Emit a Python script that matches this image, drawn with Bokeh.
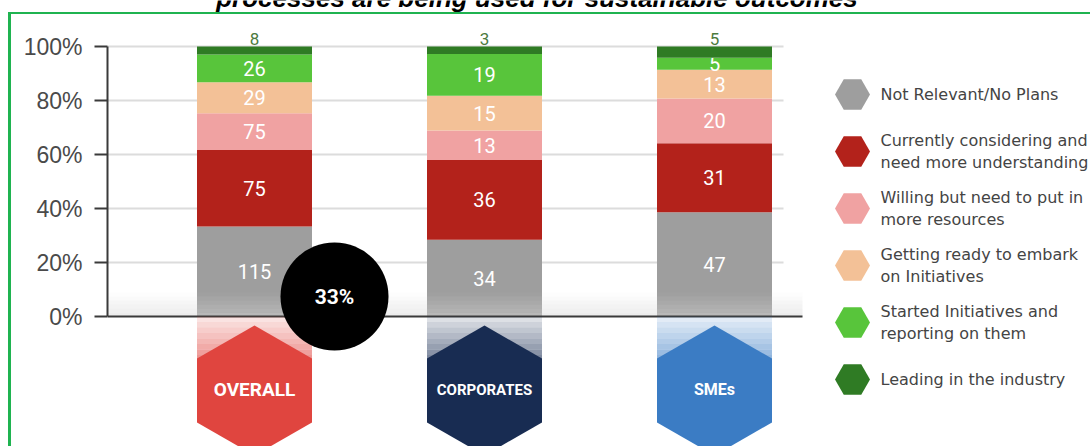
import numpy as np
from bokeh.plotting import figure
from bokeh.models import Range1d, FixedTicker
from bokeh.core.properties import value
from bokeh.embed import file_html
from bokeh.resources import INLINE

# ---------------- data ----------------
title = "processes are being used for sustainable outcomes"
groups = ["OVERALL", "CORPORATES", "SMEs"]
series_names = [
    "Not Relevant/No Plans",
    "Currently considering and\nneed more understanding",
    "Willing but need to put in\nmore resources",
    "Getting ready to embark\non Initiatives",
    "Started Initiatives and\nreporting on them",
    "Leading in the industry",
]
# bar heights (% share, bottom to top), per group
pct_not_relevant = [33.3, 28.4, 38.6]
pct_considering = [28.4, 29.6, 25.6]
pct_willing = [13.6, 10.9, 16.5]
pct_getting_ready = [11.5, 12.9, 10.7]
pct_started = [10.2, 15.4, 4.4]
pct_leading = [3.0, 2.8, 4.2]
# respondent counts shown as labels
cnt_not_relevant = [115, 34, 47]
cnt_considering = [75, 36, 31]
cnt_willing = [75, 13, 20]
cnt_getting_ready = [29, 15, 13]
cnt_started = [26, 19, 5]
cnt_leading = [8, 3, 5]
highlight_group = "OVERALL"
highlight_text = "33%"
y_ticks = [0, 20, 40, 60, 80, 100]
y_tick_labels = ["0%", "20%", "40%", "60%", "80%", "100%"]

# ---------------- styles ----------------
colors = ["#9e9e9e", "#b3221b", "#f0a2a2", "#f3c197", "#58c53b", "#2f7b24"]
badge_colors = ["#e0453f", "#182c52", "#3b7cc4"]
badge_font_sizes = ["19px", "15px", "16px"]
GREEN_FRAME = "#1fb350"

W, H = 1090, 446
PX = 230.0   # px per category step
PY = 2.7     # px per percent
BAR0 = 254   # x of first bar centre
ZERO = 316   # y of 0%
FRAME_LEFT = 107  # x of y axis


def X(px):
    return (px - BAR0) / PX


def Y(py):
    return (ZERO - py) / PY


x_start = X(FRAME_LEFT)
x_end = X(W)
y_end = Y(0)
y_start = Y(H)

p = figure(width=W, height=H,
           x_range=Range1d(x_start, x_end), y_range=Range1d(y_start, y_end),
           output_backend="svg", toolbar_location=None, x_axis_location=None,
           min_border_left=FRAME_LEFT, min_border_right=0,
           min_border_top=0, min_border_bottom=0,
           border_fill_color=None, background_fill_color=None,
           outline_line_color=None)
p.styles = {
    "box-shadow": (f"inset 0 12px 0 0 #ffffff, inset 8px 0 0 0 #ffffff, "
                   f"inset 0 14px 0 0 {GREEN_FRAME}, inset 11px 0 0 0 {GREEN_FRAME}"),
}
p.xgrid.visible = False
p.ygrid.visible = False

ax = p.yaxis[0]
ax.ticker = FixedTicker(ticks=y_ticks)
ax.major_label_overrides = {t: l for t, l in zip(y_ticks, y_tick_labels)}
ax.bounds = (0, 100)
ax.axis_line_color = "#3a3a3a"
ax.axis_line_width = 2
ax.major_tick_line_color = "#3a3a3a"
ax.major_tick_line_width = 2
ax.major_tick_out = 13
ax.major_tick_in = 0
ax.minor_tick_line_color = None
ax.major_label_text_font = "Liberation Sans"
ax.major_label_text_font_size = "23px"
ax.major_label_text_color = "#4a4a4a"
ax.major_label_standoff = 12

# grid lines
grid_end = X(783)
axis_end = X(802)
gy = y_ticks[1:]
p.segment(x0=[x_start] * len(gy), y0=gy, x1=[grid_end] * len(gy), y1=gy,
          line_color="#dcdcdc", line_width=2)

# stacked bars
xs = np.arange(len(groups))
pcts = [pct_not_relevant, pct_considering, pct_willing, pct_getting_ready, pct_started, pct_leading]
cnts = [cnt_not_relevant, cnt_considering, cnt_willing, cnt_getting_ready, cnt_started, cnt_leading]
bottom = np.zeros(len(groups))
for i, (pc, cn, col) in enumerate(zip(pcts, cnts, colors)):
    top = bottom + np.array(pc, dtype=float)
    p.vbar(x=xs, bottom=bottom, top=top, width=0.5, fill_color=col, line_color=None)
    if i < len(pcts) - 1:
        p.text(x=xs, y=(bottom + top) / 2, text=[str(c) for c in cn],
               text_color="white", text_font=value("Roboto"), text_font_size="20px",
               text_align="center", text_baseline="middle")
    else:
        # value of the top segment sits just above the bar
        p.text(x=xs, y=top, text=[str(c) for c in cn], y_offset=-8,
               text_color="#4c7a3e", text_font=value("Roboto"), text_font_size="17px",
               text_align="center", text_baseline="middle")
    bottom = top

# floor shade above the baseline
n_band = 6
band_h = 24 / PY / n_band
for k in range(n_band):
    p.quad(left=[x_start], right=[axis_end],
           top=[(n_band - k) * band_h], bottom=[(n_band - k - 1) * band_h],
           fill_color="#d6d6d6", fill_alpha=0.05 + 0.08 * k, line_color=None)

# baseline (x axis line)
p.segment(x0=[x_start], y0=[0], x1=[axis_end], y1=[0], line_color="#3a3a3a", line_width=2)

# stems below the bars
n_stem = 8
stem_h = (Y(360) - 0) / n_stem
for k in range(n_stem):
    p.quad(left=xs - 0.25, right=xs + 0.25,
           top=[k * stem_h] * len(groups), bottom=[(k + 1) * stem_h] * len(groups),
           fill_color=badge_colors, fill_alpha=0.15 + 0.06 * k, line_color=None)

# hexagon badges
hy = [Y(325), Y(358), Y(422), Y(455)]
hex_xs = [[c, c + 0.25, c + 0.25, c, c - 0.25, c - 0.25] for c in xs]
hex_ys = [[hy[0], hy[1], hy[2], hy[3], hy[2], hy[1]] for _ in xs]
p.patches(xs=hex_xs, ys=hex_ys, fill_color=badge_colors, line_color=None)
for c, g, fs in zip(xs, groups, badge_font_sizes):
    p.text(x=[c], y=[Y(389)], text=[g], text_color="white", text_font=value("Roboto"),
           text_font_style="bold", text_font_size=fs,
           text_align="center", text_baseline="middle")

# highlight circle
hi = groups.index(highlight_group)
cx, cy = xs[hi] + 80 / PX, Y(296)
p.scatter(x=[cx], y=[cy], size=108, marker="circle", fill_color="black", line_color=None)
p.text(x=[cx], y=[cy], text=[highlight_text], text_color="white", text_font=value("Roboto"),
       text_font_style="bold", text_font_size="21px", text_align="center", text_baseline="middle")

# legend
leg_y = [Y(94 + 57 * i) for i in range(len(series_names))]
p.scatter(x=[X(852)] * len(series_names), y=leg_y, marker="hex", size=35,
          fill_color=colors, line_color=None)
p.text(x=[X(880)] * len(series_names), y=leg_y, text=series_names,
       text_color="#444444", text_font=value("DejaVu Sans"), text_font_size="16px",
       text_align="left", text_baseline="middle", text_line_height=1.2)

# title (cut at the top, as in the source image)
p.text(x=[X(536.5)], y=[Y(-3)], text=[title], text_color="black",
       text_font=value("Liberation Sans"), text_font_style="bold italic",
       text_font_size="26px", text_align="center", text_baseline="middle")

open("out.html", "w").write(file_html(p, INLINE))
